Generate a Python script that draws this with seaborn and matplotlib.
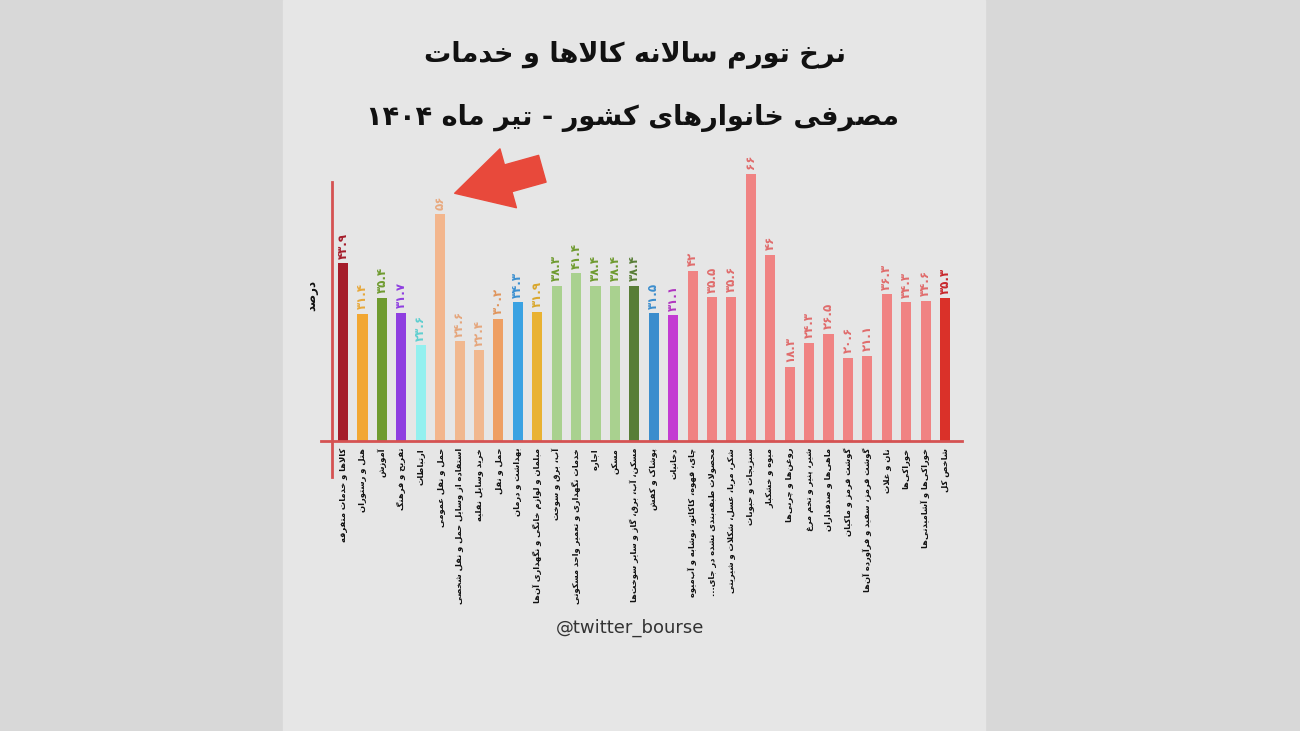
import re
import pandas as pd
import matplotlib.pyplot as plt
import seaborn as sns
from matplotlib.patches import Rectangle

# -----------------------------------------------------
# Data
# -----------------------------------------------------

categories = [
    "کالاها و خدمات متفرقه",
    "هتل و رستوران",
    "آموزش",
    "تفریح و فرهنگ",
    "ارتباطات",
    "حمل و نقل عمومی",
    "استفاده از وسایل حمل و نقل شخصی",
    "خرید وسایل نقلیه",
    "حمل و نقل",
    "بهداشت و درمان",
    "مبلمان و لوازم خانگی و نگهداری آن‌ها",
    "آب، برق و سوخت",
    "خدمات نگهداری و تعمیر واحد مسکونی",
    "اجاره",
    "مسکن",
    "مسکن، آب، برق، گاز و سایر سوخت‌ها",
    "پوشاک و کفش",
    "دخانیات",
    "چای، قهوه، کاکائو، نوشابه و آب‌میوه",
    "محصولات طبقه‌بندی نشده در جای...",
    "شکر، مربا، عسل، شکلات و شیرینی",
    "سبزیجات و حبوبات",
    "میوه و خشکبار",
    "روغن‌ها و چربی‌ها",
    "شیر، پنیر و تخم مرغ",
    "ماهی‌ها و صدفداران",
    "گوشت قرمز و ماکیان",
    "گوشت قرمز، سفید و فرآورده آن‌ها",
    "نان و غلات",
    "خوراکی‌ها",
    "خوراکی‌ها و آشامیدنی‌ها",
    "شاخص کل",
]

values = [43.9, 31.4, 35.4, 31.7, 23.6, 56, 24.6, 22.4, 30.2, 34.3, 31.9,
          38.3, 41.4, 38.4, 38.4, 38.4, 31.5, 31.1, 42, 35.5, 35.6, 66, 46,
          18.3, 24.3, 26.5, 20.6, 21.1, 36.3, 34.3, 34.6, 35.3]

bar_colors = ["#a51d2b", "#f2a732", "#6f9b2f", "#8f3fe0", "#93f0ef",
              "#f3b68d", "#f1b88f", "#f1b88f", "#ee9f63", "#3aa2e2",
              "#e9b232", "#a9d18f", "#a9d18f", "#a9d18f", "#a9d18f",
              "#587d36", "#3b8dcd", "#c33bd2"] + ["#f08383"] * 13 + ["#da3129"]

label_colors = ["#a51d2b", "#e8a83a", "#6f9b2f", "#8f3fe0", "#5fcfd0",
                "#e9aa80", "#e5a67c", "#e5a67c", "#e0955c", "#3a8fd0",
                "#d9a72c", "#6f9b2f", "#6f9b2f", "#6f9b2f", "#6f9b2f",
                "#587d36", "#3b8dcd", "#b035c0"] + ["#e06c6c"] * 13 + ["#c8262a"]

title_1 = "نرخ تورم سالانه کالاها و خدمات"
title_2 = "مصرفی خانوارهای کشور - تیر ماه ۱۴۰۴"
y_title = "درصد"
watermark = "@twitter_bourse"

# -----------------------------------------------------
# Small Persian shaper (matplotlib has no RTL shaping)
# -----------------------------------------------------

FORMS = {
    "ا": (0xFE8D, 0xFE8E, None, None), "آ": (0xFE81, 0xFE82, None, None),
    "ب": (0xFE8F, 0xFE90, 0xFE91, 0xFE92), "ت": (0xFE95, 0xFE96, 0xFE97, 0xFE98),
    "ث": (0xFE99, 0xFE9A, 0xFE9B, 0xFE9C), "ج": (0xFE9D, 0xFE9E, 0xFE9F, 0xFEA0),
    "ح": (0xFEA1, 0xFEA2, 0xFEA3, 0xFEA4), "خ": (0xFEA5, 0xFEA6, 0xFEA7, 0xFEA8),
    "د": (0xFEA9, 0xFEAA, None, None), "ذ": (0xFEAB, 0xFEAC, None, None),
    "ر": (0xFEAD, 0xFEAE, None, None), "ز": (0xFEAF, 0xFEB0, None, None),
    "ژ": (0xFB8A, 0xFB8B, None, None), "و": (0xFEED, 0xFEEE, None, None),
    "س": (0xFEB1, 0xFEB2, 0xFEB3, 0xFEB4), "ش": (0xFEB5, 0xFEB6, 0xFEB7, 0xFEB8),
    "ص": (0xFEB9, 0xFEBA, 0xFEBB, 0xFEBC), "ض": (0xFEBD, 0xFEBE, 0xFEBF, 0xFEC0),
    "ط": (0xFEC1, 0xFEC2, 0xFEC3, 0xFEC4), "ظ": (0xFEC5, 0xFEC6, 0xFEC7, 0xFEC8),
    "ع": (0xFEC9, 0xFECA, 0xFECB, 0xFECC), "غ": (0xFECD, 0xFECE, 0xFECF, 0xFED0),
    "ف": (0xFED1, 0xFED2, 0xFED3, 0xFED4), "ق": (0xFED5, 0xFED6, 0xFED7, 0xFED8),
    "ل": (0xFEDD, 0xFEDE, 0xFEDF, 0xFEE0), "م": (0xFEE1, 0xFEE2, 0xFEE3, 0xFEE4),
    "ن": (0xFEE5, 0xFEE6, 0xFEE7, 0xFEE8), "ه": (0xFEE9, 0xFEEA, 0xFEEB, 0xFEEC),
    "ئ": (0xFE89, 0xFE8A, 0xFE8B, 0xFE8C), "پ": (0xFB56, 0xFB57, 0xFB58, 0xFB59),
    "چ": (0xFB7A, 0xFB7B, 0xFB7C, 0xFB7D), "ک": (0xFB8E, 0xFB8F, 0xFB90, 0xFB91),
    "گ": (0xFB92, 0xFB93, 0xFB94, 0xFB95), "ی": (0xFBFC, 0xFBFD, 0xFBFE, 0xFBFF),
}
LAM_ALEF = {"ا": (0xFEFB, 0xFEFC), "آ": (0xFEF5, 0xFEF6)}


def joins_forward(c):
    return c in FORMS and FORMS[c][2] is not None


def fa(text):
    chars = list(text)
    n = len(chars)
    res = []
    i = 0
    while i < n:
        c = chars[i]
        if c not in FORMS:
            res.append(c)
            i += 1
            continue
        p = i > 0 and joins_forward(chars[i - 1])
        if c == "ل" and i + 1 < n and chars[i + 1] in LAM_ALEF:
            iso, fin = LAM_ALEF[chars[i + 1]]
            res.append(chr(fin if p else iso))
            i += 2
            continue
        nx = joins_forward(c) and i + 1 < n and chars[i + 1] in FORMS
        iso, fin, ini, med = FORMS[c]
        code = med if (p and nx) else fin if p else ini if nx else iso
        res.append(chr(code))
        i += 1
    shaped = "".join(res).replace("\u200c", "")
    # visual order: reverse everything except number runs
    parts = re.split(r"([0-9۰-۹]+(?:\.[0-9۰-۹]+)?)", shaped)
    parts = [t if re.fullmatch(r"[0-9۰-۹]+(?:\.[0-9۰-۹]+)?", t) else t[::-1] for t in parts]
    return "".join(parts[::-1])


def fa_num(v):
    s = str(int(v)) if float(v).is_integer() else f"{v:.1f}"
    return s.translate(str.maketrans("0123456789", "۰۱۲۳۴۵۶۷۸۹"))


# -----------------------------------------------------
# Figure
# -----------------------------------------------------

sns.set_style("white")
plt.rcParams["font.family"] = ["DejaVu Sans"]

fig = plt.figure(figsize=(13, 7.31), dpi=100)
fig.patch.set_facecolor("#d8d8d8")
fig.patches.append(Rectangle((283 / 1300, 0), (985 - 283) / 1300, 1,
                             transform=fig.transFigure, color="#e6e6e6", zorder=-5))

ax = fig.add_axes([0.2469, 0.3468, 0.4931, 0.4488])
ax.set_facecolor("none")
ax.set_zorder(2)

df = pd.DataFrame({"label": [fa(c) for c in categories], "value": values})

sns.barplot(data=df, x="label", y="value", hue="label", palette=bar_colors,
            legend=False, width=0.52, saturation=1, linewidth=0, ax=ax)

ax.set_xlim(-1.14, 31.875)
ax.set_ylim(-9, 72)

for i, v in enumerate(values):
    ax.text(i, v + 1.1, fa_num(v), rotation=90, ha="center", va="bottom",
            color=label_colors[i], fontsize=8.5, fontweight="bold")

# axis lines
axis_red = "#d55252"
for side in ["top", "right"]:
    ax.spines[side].set_visible(False)
ax.spines["bottom"].set_position(("data", 0))
ax.spines["left"].set_position(("data", -0.57))
ax.spines["left"].set_bounds(-8.9, 64)
ax.spines["bottom"].set_color(axis_red)
ax.spines["left"].set_color(axis_red)
ax.spines["bottom"].set_linewidth(2)
ax.spines["left"].set_linewidth(2)

ax.set_yticks([])
ax.tick_params(axis="x", length=0, pad=5)
plt.setp(ax.get_xticklabels(), rotation=90, fontsize=6, fontweight="bold",
         color="#111111", ha="center", va="top")
ax.set_xlabel("")
ax.set_ylabel("")

fig.text(312 / 1300, 1 - 295 / 731, fa(y_title), rotation=90, ha="center",
         va="center", fontsize=8.5, fontweight="bold", color="#111111")

# titles
fig.text(635 / 1300, 1 - 55 / 731, fa(title_1), ha="center", va="center",
         fontsize=19.5, fontweight="bold", color="#111111")
fig.text(632 / 1300, 1 - 118 / 731, fa(title_2), ha="center", va="center",
         fontsize=19.5, fontweight="bold", color="#111111")

# arrow pointing at public transport bar
ax.annotate("", xy=(452, 731 - 194), xytext=(545, 731 - 168),
            xycoords="figure pixels", textcoords="figure pixels",
            arrowprops=dict(arrowstyle="simple,head_length=2.0,head_width=2.2,tail_width=1.0",
                            color="#e8493b", mutation_scale=20))

fig.text(630 / 1300, 1 - 628 / 731, watermark, ha="center", va="center",
         fontsize=13, color="#333333")

plt.savefig("out.png", dpi=100, facecolor=fig.get_facecolor())
plt.close()
